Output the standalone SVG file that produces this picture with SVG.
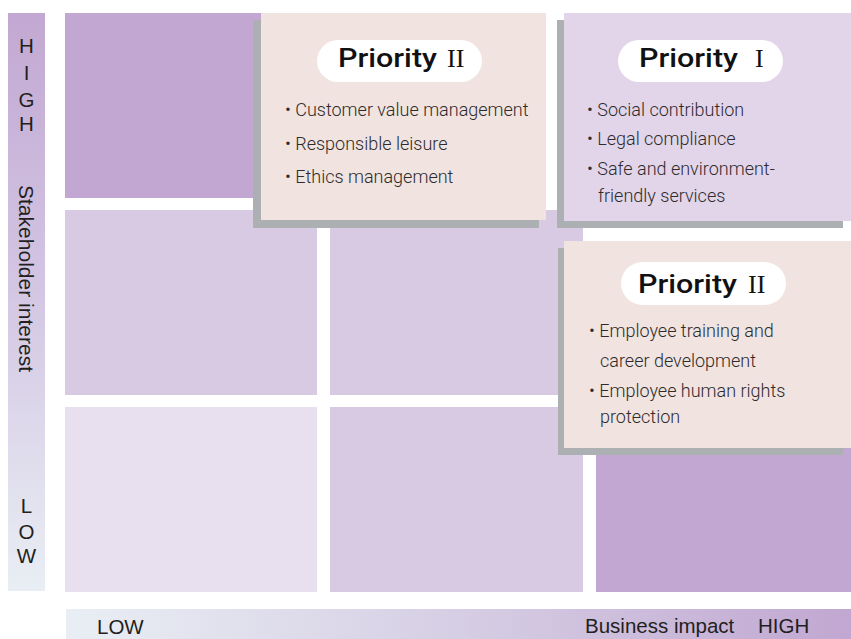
<svg xmlns="http://www.w3.org/2000/svg" width="851" height="639" viewBox="0 0 851 639">
  <defs>
    <linearGradient id="gV" x1="0" y1="0" x2="0" y2="1">
      <stop offset="0" stop-color="#c2a8d2"/>
      <stop offset="0.45" stop-color="#d2c4e2"/>
      <stop offset="1" stop-color="#e9eef4"/>
    </linearGradient>
    <linearGradient id="gH" x1="0" y1="0" x2="1" y2="0">
      <stop offset="0" stop-color="#e9eef4"/>
      <stop offset="0.5" stop-color="#d6cee4"/>
      <stop offset="1" stop-color="#c1a7d1"/>
    </linearGradient>
    <style>
      .axis { font-family: "Liberation Sans", Arial, sans-serif; font-size: 20.5px; fill: #231f20; }
      .dark { fill: #c1a7d1; }
      .mid { fill: #d8cae3; }
      .light { fill: #e8e0ef; }
      .shadow { fill: #adb0b2; }
      .pink { fill: #f0e3e0; }
      .lav { fill: #e2d5ea; }
      .pill { fill: #ffffff; }
      .pt { font-family: Roboto, "Liberation Sans", sans-serif; font-weight: 500; font-size: 25px; fill: #111111; }
      .rn { font-family: "Liberation Serif", "Times New Roman", serif; font-size: 26px; fill: #111111; }
      .item { font-family: Roboto, "Liberation Sans", sans-serif; font-weight: 300; font-size: 18px; fill: #2e2b2c; }
    </style>
  </defs>

  <rect width="851" height="639" fill="#ffffff"/>

  <g id="axis-y">
    <rect x="8" y="13" width="37" height="578" fill="url(#gV)"/>
    <g class="axis" text-anchor="middle">
      <text x="26.5" y="53">H</text>
      <text x="26.5" y="80">I</text>
      <text x="26.5" y="107">G</text>
      <text x="26.5" y="131">H</text>
      <text x="26.5" y="513">L</text>
      <text x="26.5" y="539">O</text>
      <text x="26.5" y="563">W</text>
    </g>
    <text class="axis" transform="translate(18.5,278.5) rotate(90)" text-anchor="middle" textLength="187" lengthAdjust="spacingAndGlyphs">Stakeholder interest</text>
  </g>

  <g id="axis-x">
    <rect x="66" y="609" width="785" height="30" fill="url(#gH)"/>
    <text class="axis" x="97" y="634">LOW</text>
    <text class="axis" x="585" y="633">Business impact</text>
    <text class="axis" x="758" y="633">HIGH</text>
  </g>

  <g id="grid">
    <rect class="dark" x="65" y="13" width="252" height="185"/>
    <rect class="mid" x="65" y="210" width="252" height="185"/>
    <rect class="mid" x="330" y="210" width="253" height="185"/>
    <rect class="light" x="65" y="407" width="252" height="185"/>
    <rect class="mid" x="330" y="407" width="253" height="185"/>
    <rect class="dark" x="596" y="407" width="255" height="185"/>
  </g>

  <g id="box-priority2-top">
    <rect class="shadow" x="253" y="20" width="286" height="208"/>
    <rect class="pink" x="261" y="13" width="285" height="207"/>
    <rect class="pill" x="317" y="40" width="165" height="42" rx="21"/>
    <text class="pt" x="338" y="67" textLength="99" lengthAdjust="spacingAndGlyphs">Priority</text>
    <text class="rn" x="447" y="67">II</text>
    <g class="item">
      <text x="285" y="116">• Customer value management</text>
      <text x="285" y="150">• Responsible leisure</text>
      <text x="285" y="183">• Ethics management</text>
    </g>
  </g>

  <g id="box-priority1">
    <rect class="shadow" x="557" y="20" width="286" height="208"/>
    <rect class="lav" x="564" y="13" width="287" height="208"/>
    <rect class="pill" x="618" y="40" width="165" height="42" rx="21"/>
    <text class="pt" x="639" y="67" textLength="99" lengthAdjust="spacingAndGlyphs">Priority</text>
    <text class="rn" x="755" y="67">I</text>
    <g class="item">
      <text x="587" y="116">• Social contribution</text>
      <text x="587" y="145">• Legal compliance</text>
      <text x="587" y="175">• Safe and environment-</text>
      <text x="598" y="202">friendly services</text>
    </g>
  </g>

  <g id="box-priority2-bottom">
    <rect class="shadow" x="558" y="248" width="285" height="207"/>
    <rect class="pink" x="564" y="241" width="287" height="207"/>
    <rect class="pill" x="621" y="262" width="165" height="43" rx="21.5"/>
    <text class="pt" x="638" y="293" textLength="99" lengthAdjust="spacingAndGlyphs">Priority</text>
    <text class="rn" x="748" y="293">II</text>
    <g class="item">
      <text x="589" y="337">• Employee training and</text>
      <text x="600" y="367">career development</text>
      <text x="589" y="397">• Employee human rights</text>
      <text x="600" y="423">protection</text>
    </g>
  </g>

  <g id="connectors"></g>
</svg>
